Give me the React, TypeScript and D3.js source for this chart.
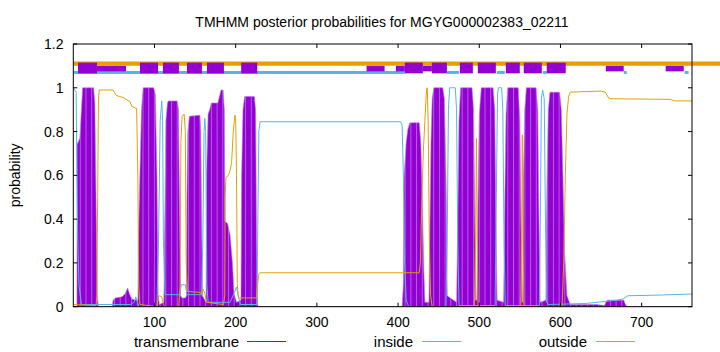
import React, { useRef, useEffect } from "react";
import * as d3 from "d3";

// posterior probabilities, [residue, probability]
const tmPoints: [number, number][] = [
  [0, 0], [4.5, 0], [4.6, 0.74], [8, 0.77], [10, 0.9], [11.5, 1], [25, 1], [26.5, 0.93], [28, 0.5], [29.5, 0.05], [31, 0],
  [48, 0], [49, 0.03], [52, 0.04], [60, 0.045], [64, 0.06], [67, 0.085], [69, 0.06], [72, 0.035], [78, 0.03], [79.6, 0.03],
  [80, 0.27], [82, 0.6], [84, 0.9], [86, 1], [99, 1], [101, 0.97], [103, 0.6], [104.5, 0.05], [106, 0.01],
  [111.5, 0.02], [113, 0.5], [114, 0.85], [116, 0.93], [117, 0.94], [128, 0.94], [129.5, 0.9], [131, 0.4], [132, 0.05],
  [134, 0.04], [138, 0.04], [139.5, 0.05], [140, 0.5], [141, 0.8], [143, 0.87], [156, 0.875], [157, 0.8], [158, 0.4], [159, 0.05],
  [163.5, 0.02], [164.2, 0.6], [166, 0.88], [168, 0.9], [170, 0.93], [178, 0.93], [180, 0.96], [182, 0.99], [184.5, 0.99], [186, 0.9],
  [186.7, 0.39], [190, 0.38], [193, 0.33], [196, 0.2], [198, 0.06], [201, 0.02],
  [206.5, 0.03], [207.3, 0.6], [209, 0.9], [211, 0.96], [223, 0.96], [224.5, 0.9], [225.8, 0.3], [227, 0.01], [228, 0],
  [405, 0], [406.5, 0.1], [407.5, 0.6], [410, 0.75], [412, 0.81], [414.5, 0.84], [426, 0.84], [428, 0.75], [430, 0.47], [431.5, 0.19], [433, 0.02],
  [438, 0.02], [439, 0.3], [440.5, 0.75], [442, 0.95], [444, 1], [455, 1], [457, 0.95], [459, 0.6], [460.5, 0.05],
  [472, 0.02], [473.6, 0.4], [475, 0.85], [477, 1], [491, 1], [493, 0.9], [494.5, 0.4], [495.5, 0.03],
  [497, 0.03], [498.5, 0.5], [500, 0.88], [502.5, 1], [517, 1], [519, 0.9], [520.5, 0.4], [522, 0.03],
  [530, 0.02], [531.5, 0.5], [533, 0.88], [535, 1], [548, 1], [550, 0.85], [551.5, 0.3], [552.5, 0.02],
  [553.5, 0.02], [554.5, 0.6], [556, 0.9], [558, 1], [570, 1], [572, 0.9], [573.5, 0.4], [575, 0.02],
  [582, 0.03], [583.5, 0.6], [585, 0.9], [587, 0.98], [599, 0.98], [601, 0.9], [603, 0.6], [605, 0.25], [608, 0.05], [612, 0.01],
  [645, 0.01], [654, 0.005], [656, 0.02], [658, 0.03], [678, 0.03], [680, 0.01], [682, 0], [762, 0],
];

const insidePoints: [number, number][] = [
  [0, 1], [3.5, 0.98], [4.5, 0.6], [5.5, 0.3], [7, 0.1], [10, 0.01], [70, 0.01], [75, 0.02], [77, 0.045], [79, 0.02], [81, 0],
  [103, 0], [105, 0.3], [107, 0.85], [109, 0.94], [110, 0.85], [111, 0.3], [113, 0.055], [131, 0.055], [133, 0.1], [138, 0.1],
  [140, 0.055], [158, 0.055], [159.5, 0.3], [161, 0.8], [162, 0.86], [163, 0.8], [164.5, 0.1], [166, 0.02], [193, 0.02],
  [198, 0.06], [201, 0.09], [203, 0.05], [206, 0.01], [226, 0.01], [227, 0.3], [228.5, 0.8], [230, 0.845], [403, 0.845],
  [405, 0.83], [406.5, 0.6], [408, 0.2], [410, 0.03], [413, 0], [459, 0], [460.5, 0.3], [462, 0.9], [463.5, 1], [470.5, 1],
  [472, 0.9], [473.5, 0.3], [475, 0.005], [519.5, 0.005], [521, 0.5], [522.5, 0.97], [523.5, 1], [527.5, 1], [529, 0.9],
  [530.5, 0.3], [532, 0.005], [574, 0.005], [575.5, 0.5], [576.5, 0.95], [578, 0.99], [580, 0.95], [581.5, 0.4], [583, 0.02],
  [585, 0.01], [605, 0.012], [632, 0.015], [650, 0.022], [670, 0.03], [677, 0.035], [683, 0.05], [720, 0.053], [762, 0.058],
];

const outsidePoints: [number, number][] = [
  [0, 0.01], [28, 0.005], [29, 0.05], [30, 0.5], [31, 0.95], [32, 0.99], [49, 0.99], [53, 0.965], [57, 0.96], [62, 0.955],
  [66, 0.945], [70, 0.935], [72, 0.915], [78, 0.905], [79.5, 0.6], [80.5, 0.1], [82, 0.01], [103, 0], [104.5, 0.04],
  [106, 0.05], [109, 0.045], [111, 0.01], [113, 0], [130, 0], [131.5, 0.1], [132.5, 0.75], [134, 0.87], [136.5, 0.88],
  [138, 0.8], [139, 0.2], [140.5, 0.07], [156, 0.065], [158, 0.06], [160, 0.08], [162, 0.06], [164, 0.02], [185, 0.01],
  [186.5, 0.05], [187, 0.5], [188, 0.59], [191, 0.6], [193, 0.62], [195, 0.66], [197, 0.8], [199, 0.875], [200, 0.86],
  [201, 0.6], [202, 0.1], [203.5, 0.04], [225.5, 0.04], [227, 0.1], [228.5, 0.15], [230, 0.155], [426, 0.155], [427.5, 0.2],
  [429, 0.45], [431, 0.7], [433, 0.85], [435, 0.99], [436, 1], [437, 0.85], [438.5, 0.3], [440, 0.05], [442, 0], [494, 0],
  [495.5, 0.3], [496.5, 0.77], [497.5, 0.3], [498.5, 0], [551, 0], [552.3, 0.4], [553, 0.785], [553.8, 0.3], [555, 0],
  [602, 0], [604, 0.2], [606, 0.6], [608, 0.88], [610, 0.96], [612, 0.98], [650, 0.985], [655, 0.98], [660, 0.95],
  [735, 0.947], [740, 0.94], [762, 0.94],
];

// topology bars on top, [from, to] residues
const tmBoxes: [number, number][] = [
  [5.8, 29.2], [82.1, 104.3], [110.4, 130.1], [140, 158.4], [164.6, 185.5], [206.8, 226.5],
  [408.3, 430.5], [441.6, 460.1], [476.1, 492.1], [498.2, 520.4], [532.7, 549.9], [554.8, 577], [583.1, 606.5],
];
const tmThin: [number, number][] = [
  [29.2, 64.9], [361.2, 383.4], [397.3, 408.3], [430.5, 441.6], [655.8, 677.9], [729.6, 751.8],
];
const insideBar: [number, number][] = [
  [0, 408.3], [460.2, 474.9], [521.6, 531.4], [578.2, 583.1], [678, 681.7], [752.9, 757.8],
];

const xTicks = [100, 200, 300, 400, 500, 600, 700];
const yTicks = [0, 0.2, 0.4, 0.6, 0.8, 1, 1.2];
const seqLength = 762;

const title = "TMHMM posterior probabilities for MGYG000002383_02211";
const legend = [
  { name: "transmembrane", color: "#9400d3", textEnd: 239, lineX: 247 },
  { name: "inside", color: "#56b4e9", textEnd: 413, lineX: 422 },
  { name: "outside", color: "#e69f00", textEnd: 587, lineX: 596 },
];

const App = () => {
  const svgRef = useRef<SVGSVGElement>(null);
  const width = 720;
  const height = 352;
  const left = 73.3, right = 692, top = 44, bottom = 306.7;
  const font = "'Liberation Sans', Arial, sans-serif";

  useEffect(() => {
    const svg = d3.select(svgRef.current);
    svg.selectAll("*").remove();

    const x = d3.scaleLinear().domain([0, seqLength]).range([left, right]);
    const y = d3.scaleLinear().domain([0, 1.2]).range([bottom, top]);

    const defs = svg.append("defs");
    const pat = defs.append("pattern")
      .attr("id", "stripes")
      .attr("patternUnits", "userSpaceOnUse")
      .attr("width", 5.7)
      .attr("height", 10);
    pat.append("rect").attr("width", 5.7).attr("height", 10).attr("fill", "#9400d3");
    pat.append("rect").attr("x", 0).attr("width", 1).attr("height", 10).attr("fill", "#b25ee6");
    defs.append("clipPath").attr("id", "plotclip")
      .append("rect").attr("x", left).attr("y", top).attr("width", right - left).attr("height", bottom - top);

    // transmembrane area
    const area = d3.area<[number, number]>()
      .x(d => x(d[0]))
      .y0(y(0))
      .y1(d => y(d[1]));
    svg.append("path")
      .datum(tmPoints)
      .attr("d", area)
      .attr("fill", "url(#stripes)")
      .attr("stroke", "#b77be0")
      .attr("stroke-width", 0.6)
      .attr("clip-path", "url(#plotclip)");

    const line = d3.line<[number, number]>().x(d => x(d[0])).y(d => y(d[1]));
    svg.append("path").datum(insidePoints).attr("d", line)
      .attr("fill", "none").attr("stroke", "#56b4e9").attr("stroke-width", 1)
      .attr("clip-path", "url(#plotclip)");
    svg.append("path").datum(outsidePoints).attr("d", line)
      .attr("fill", "none").attr("stroke", "#e69f00").attr("stroke-width", 1)
      .attr("clip-path", "url(#plotclip)");

    // topology bars
    svg.append("line")
      .attr("x1", x(0)).attr("x2", width)
      .attr("y1", y(1.11)).attr("y2", y(1.11))
      .attr("stroke", "#e69f00").attr("stroke-width", 4.3);
    svg.append("g").selectAll("line").data(insideBar).join("line")
      .attr("x1", d => x(d[0])).attr("x2", d => x(d[1]))
      .attr("y1", y(1.07)).attr("y2", y(1.07))
      .attr("stroke", "#56b4e9").attr("stroke-width", 3);
    svg.append("g").selectAll("rect").data(tmThin).join("rect")
      .attr("x", d => x(d[0])).attr("width", d => x(d[1]) - x(d[0]))
      .attr("y", y(1.1)).attr("height", y(1.075) - y(1.1))
      .attr("fill", "#9400d3");
    svg.append("g").selectAll("rect").data(tmBoxes).join("rect")
      .attr("x", d => x(d[0])).attr("width", d => x(d[1]) - x(d[0]))
      .attr("y", y(1.115)).attr("height", y(1.066) - y(1.115))
      .attr("fill", "#9400d3");

    // frame and ticks
    svg.append("rect")
      .attr("x", left).attr("y", top)
      .attr("width", right - left).attr("height", bottom - top)
      .attr("fill", "none").attr("stroke", "#000").attr("stroke-width", 1);

    const tickG = svg.append("g").attr("stroke", "#000").attr("stroke-width", 1);
    xTicks.forEach(t => {
      tickG.append("line").attr("x1", x(t)).attr("x2", x(t)).attr("y1", bottom).attr("y2", bottom - 4);
      tickG.append("line").attr("x1", x(t)).attr("x2", x(t)).attr("y1", top).attr("y2", top + 4);
    });
    yTicks.forEach(t => {
      tickG.append("line").attr("x1", left).attr("x2", left + 4).attr("y1", y(t)).attr("y2", y(t));
      tickG.append("line").attr("x1", right).attr("x2", right - 4).attr("y1", y(t)).attr("y2", y(t));
    });

    const txt = svg.append("g").attr("font-family", font).attr("font-size", 14).attr("fill", "#000");
    txt.selectAll("text.xt").data(xTicks).join("text")
      .attr("class", "xt")
      .attr("x", d => x(d)).attr("y", 327)
      .attr("text-anchor", "middle")
      .text(d => String(d));
    txt.selectAll("text.yt").data(yTicks).join("text")
      .attr("class", "yt")
      .attr("x", 63.5).attr("y", d => y(d) + 5)
      .attr("text-anchor", "end")
      .text(d => String(d));
    txt.append("text")
      .attr("x", 382).attr("y", 27)
      .attr("text-anchor", "middle")
      .text(title);
    txt.append("text")
      .attr("transform", `translate(20,${(top + bottom) / 2}) rotate(-90)`)
      .attr("text-anchor", "middle")
      .text("probability");

    legend.forEach(l => {
      txt.append("text")
        .attr("x", l.textEnd).attr("y", 346.5)
        .attr("text-anchor", "end")
        .attr("font-size", 15)
        .text(l.name);
      svg.append("line")
        .attr("x1", l.lineX).attr("x2", l.lineX + 39)
        .attr("y1", 341.5).attr("y2", 341.5)
        .attr("stroke", l.color).attr("stroke-width", 1);
    });
  }, []);

  return (
    <svg
      ref={svgRef}
      width={width}
      height={height}
      style={{ position: "absolute", left: 0, top: 0, background: "#fff" }}
    />
  );
};

export default App;
